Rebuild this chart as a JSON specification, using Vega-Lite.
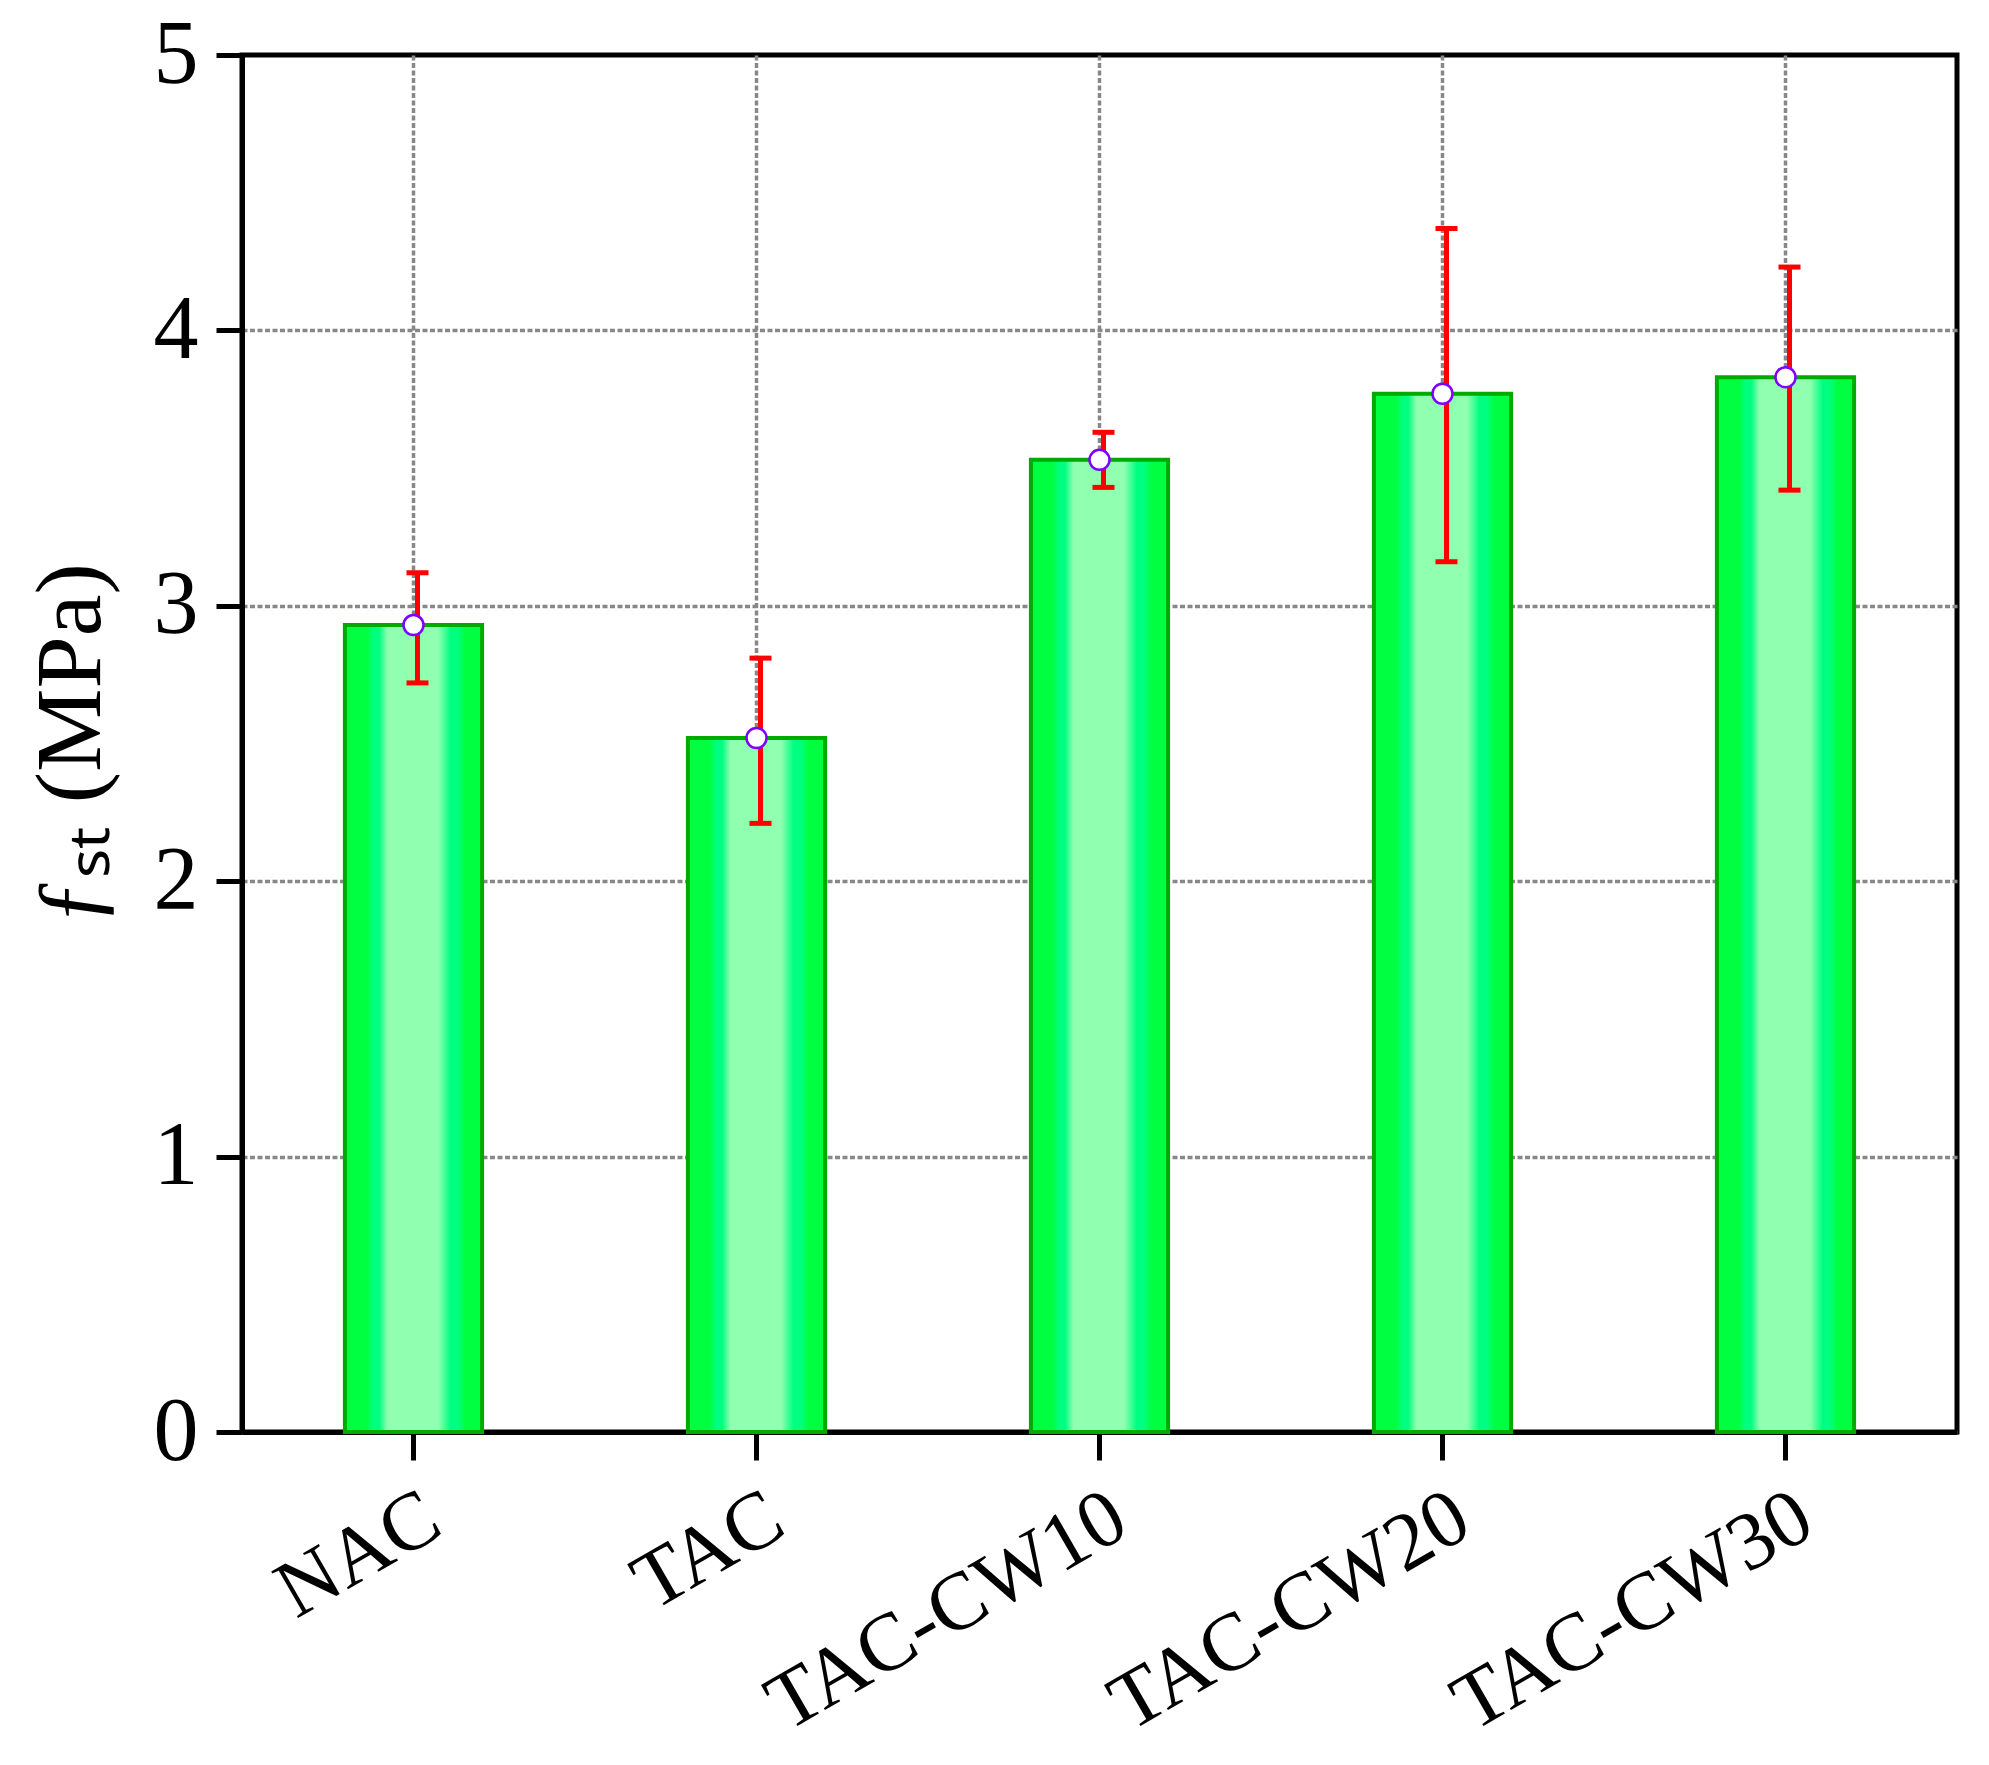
{
  "$schema": "https://vega.github.io/schema/vega-lite/v6.json",
  "autosize": {"type": "none"},
  "width": 1715,
  "height": 1377,
  "padding": {"left": 242, "top": 55, "right": 32, "bottom": 333},
  "background": "white",
  "config": {
    "view": {"stroke": "black", "strokeWidth": 5},
    "font": "'Liberation Serif', 'Times New Roman', Times, serif"
  },
  "data": {
    "values": [
      {"mix": "NAC", "mean": 2.93, "lo": 2.72, "hi": 3.12},
      {"mix": "TAC", "mean": 2.52, "lo": 2.21, "hi": 2.81},
      {"mix": "TAC-CW10", "mean": 3.53, "lo": 3.43, "hi": 3.63},
      {"mix": "TAC-CW20", "mean": 3.77, "lo": 3.16, "hi": 4.37},
      {"mix": "TAC-CW30", "mean": 3.83, "lo": 3.42, "hi": 4.23}
    ]
  },
  "encoding": {
    "x": {
      "field": "mix", "type": "nominal", "sort": null,
      "scale": {"paddingInner": 0.6, "paddingOuter": 0.3},
      "axis": {
        "title": null, "labelAngle": -30, "labelAlign": "right", "labelBaseline": "top",
        "labelFont": "'Liberation Serif', 'Times New Roman', Times, serif", "labelFontSize": 82, "labelColor": "black",
        "labelPadding": 16, "labelLimit": 0, "labelOffset": 0,
        "tickSize": 28, "tickWidth": 5, "tickColor": "black",
        "domainColor": "black", "domainWidth": 5,
        "grid": true, "gridColor": "#888888", "gridDash": [5, 2.5], "gridWidth": 3.5
      }
    }
  },
  "layer": [
    {
      "mark": {
        "type": "bar",
        "stroke": "#00aa00", "strokeWidth": 4,
        "color": {
          "gradient": "linear", "x1": 0, "x2": 1, "y1": 0, "y2": 0,
          "stops": [
            {"offset": 0, "color": "#00ff40"},
            {"offset": 0.16, "color": "#00ff40"},
            {"offset": 0.21, "color": "#00ff80"},
            {"offset": 0.25, "color": "#00ff80"},
            {"offset": 0.31, "color": "#90ffb0"},
            {"offset": 0.68, "color": "#90ffb0"},
            {"offset": 0.77, "color": "#00ff80"},
            {"offset": 0.82, "color": "#00ff80"},
            {"offset": 0.88, "color": "#00ff40"},
            {"offset": 1, "color": "#00ff40"}
          ]
        }
      },
      "encoding": {
        "y": {
          "field": "mean", "type": "quantitative",
          "scale": {"domain": [0, 5], "nice": false},
          "axis": {
            "title": "ƒₛₜ (MPa)", "titleFont": "'Liberation Serif', 'Times New Roman', Times, serif", "titleFontSize": 94,
            "titleFontWeight": "normal", "titleColor": "black", "titlePadding": 34,
            "values": [0, 1, 2, 3, 4, 5], "format": "d",
            "labelFont": "'Liberation Serif', 'Times New Roman', Times, serif", "labelFontSize": 90, "labelColor": "black",
            "labelPadding": 18,
            "tickSize": 26, "tickWidth": 5, "tickColor": "black",
            "domainColor": "black", "domainWidth": 5,
            "grid": true, "gridColor": "#888888", "gridDash": [5, 2.5], "gridWidth": 3.5,
            "gridOpacity": {"condition": {"test": "datum.value >= 5", "value": 0}, "value": 1}
          }
        }
      }
    },
    {
      "mark": {"type": "rule", "color": "#ff0000", "strokeWidth": 5, "xOffset": 4},
      "encoding": {
        "y": {"field": "lo", "type": "quantitative"},
        "y2": {"field": "hi"}
      }
    },
    {
      "mark": {"type": "tick", "color": "#ff0000", "size": 22, "thickness": 5, "opacity": 1, "xOffset": 4},
      "encoding": {"y": {"field": "lo", "type": "quantitative"}}
    },
    {
      "mark": {"type": "tick", "color": "#ff0000", "size": 22, "thickness": 5, "opacity": 1, "xOffset": 4},
      "encoding": {"y": {"field": "hi", "type": "quantitative"}}
    },
    {
      "mark": {"type": "point", "shape": "circle", "filled": true, "fill": "white", "stroke": "#8000ff", "strokeWidth": 2.5, "size": 400, "opacity": 1},
      "encoding": {"y": {"field": "mean", "type": "quantitative"}}
    }
  ]
}
